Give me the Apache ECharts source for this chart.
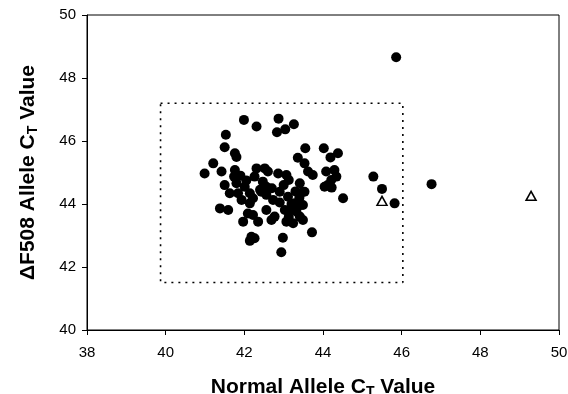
<!DOCTYPE html>
<html>
<head>
<meta charset="utf-8">
<script src="https://cdn.jsdelivr.net/npm/echarts@6/dist/echarts.min.js"></script>
<style>
  html, body { margin: 0; padding: 0; background: #fff; }
  #chart { width: 568px; height: 394px; }
</style>
</head>
<body>
<div id="chart"></div>
<script>
// normal allele Ct (x) vs deltaF508 allele Ct (y), filled circles
const sampleX = [
  41.99, 42.31, 42.87, 42.83, 43.04, 43.26, 41.53, 41.50, 41.76, 41.80,
  41.21, 40.99, 41.42, 41.76, 41.74, 42.31, 42.52, 42.26, 42.47, 42.60,
  42.86, 43.07, 43.13, 43.41, 43.49, 43.55, 43.36, 43.53, 43.62, 43.74,
  44.02, 44.19, 44.38, 44.08, 44.29, 44.34, 44.12, 44.04, 44.22, 44.51,
  44.21,
  41.50, 41.80, 42.01, 41.63, 41.84, 41.93, 42.14, 42.22, 42.43, 42.56,
  42.14, 42.56, 42.73, 42.90, 43.11, 43.28, 43.49, 43.15, 43.32, 43.49,
  43.07, 43.24, 43.41, 43.53, 43.03, 43.13, 42.56, 42.69, 42.77, 41.38,
  41.59, 42.09, 42.22, 41.97, 42.35, 42.18, 42.26, 42.14, 42.98, 43.72,
  42.94,
  42.40, 42.70, 43.00, 43.30, 43.20, 43.40, 42.90, 43.35, 42.05, 41.90,
  45.86, 45.28, 45.50, 45.82, 46.76
];
const sampleY = [
  46.67, 46.46, 46.71, 46.28, 46.37, 46.53, 46.20, 45.80, 45.61, 45.49,
  45.29, 44.97, 45.03, 45.08, 44.87, 45.13, 45.13, 44.87, 44.71, 45.03,
  44.97, 44.92, 44.76, 44.66, 44.39, 45.77, 45.47, 45.29, 45.03, 44.92,
  45.77, 45.48, 45.61, 45.03, 45.08, 44.87, 44.60, 44.55, 44.52, 44.18,
  44.76,
  44.60, 44.66, 44.55, 44.34, 44.34, 44.13, 44.34, 44.18, 44.39, 44.55,
  44.02, 44.29, 44.13, 44.39, 44.23, 44.02, 43.97, 43.81, 43.76, 43.49,
  43.44, 43.39, 43.60, 44.39, 43.81, 43.59, 43.81, 43.49, 43.60, 43.86,
  43.81, 43.70, 43.65, 43.44, 43.44, 42.96, 42.91, 42.83, 42.93, 43.10,
  42.47,
  44.45, 44.50, 44.60, 44.40, 44.00, 44.20, 44.05, 43.90, 44.75, 44.90,
  48.66, 44.87, 44.48, 44.02, 44.63
];
// open triangles
const triX = [45.50, 49.29];
const triY = [44.10, 44.26];
// dotted reference box corners
const boxX = [39.87, 46.03, 46.03, 39.87, 39.87];
const boxY = [47.20, 47.20, 41.51, 41.51, 47.20];

const xTicks = { min: 38, max: 50, interval: 2 };
const yTicks = { min: 40, max: 50, interval: 2 };

const zip = (a, b) => a.map((v, i) => [v, b[i]]);

const chart = echarts.init(document.getElementById('chart'));
const font = 'Liberation Sans, Arial, sans-serif';
const titleRich = {
  b: { fontSize: 21, fontWeight: 'bold', fontFamily: font, color: '#000', lineHeight: 26 },
  s: { fontSize: 14, fontWeight: 'bold', fontFamily: font, color: '#000', lineHeight: 26, padding: [10, 0, 0, 0] }
};

chart.setOption({
  animation: false,
  grid: {
    left: 87, right: 9, top: 15, bottom: 64,
    outerBoundsMode: 'none',
    containLabel: false,
    show: true, borderColor: '#000', borderWidth: 1, backgroundColor: '#fff'
  },
  xAxis: {
    type: 'value',
    min: xTicks.min, max: xTicks.max, interval: xTicks.interval,
    name: '{b|Normal Allele C}{s|T}{b| Value}',
    nameLocation: 'middle',
    nameGap: 44,
    nameTextStyle: { rich: titleRich },
    axisLine: { show: true, lineStyle: { color: '#000', width: 1 } },
    axisTick: { show: true, length: 5, lineStyle: { color: '#000' } },
    axisLabel: { color: '#000', fontSize: 15, fontFamily: font, margin: 15 },
    splitLine: { show: false }
  },
  yAxis: {
    type: 'value',
    min: yTicks.min, max: yTicks.max, interval: yTicks.interval,
    name: '{b|\u0394F508 Allele C}{s|T}{b| Value}',
    nameLocation: 'middle',
    nameGap: 46,
    nameRotate: 90,
    nameTextStyle: { rich: titleRich },
    axisLine: { show: true, lineStyle: { color: '#000', width: 1 } },
    axisTick: { show: true, length: 5, lineStyle: { color: '#000' } },
    axisLabel: { color: '#000', fontSize: 15, fontFamily: font, margin: 11 },
    splitLine: { show: false }
  },
  series: [
    {
      type: 'line',
      data: zip(boxX, boxY),
      symbol: 'none',
      silent: true,
      lineStyle: { color: '#000', width: 1.6, type: [2, 5] },
      z: 1
    },
    {
      type: 'scatter',
      data: zip(sampleX, sampleY),
      symbol: 'circle',
      symbolSize: 10,
      itemStyle: { color: '#000', opacity: 1 },
      z: 3
    },
    {
      type: 'scatter',
      data: zip(triX, triY),
      symbol: 'triangle',
      symbolSize: [10, 9],
      itemStyle: { color: '#fff', borderColor: '#000', borderWidth: 1.5, opacity: 1 },
      z: 3
    }
  ]
});
</script>
</body>
</html>
